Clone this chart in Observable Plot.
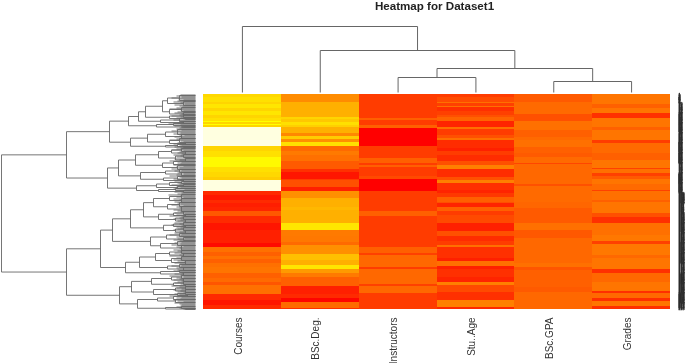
<!DOCTYPE html>
<html>
<head>
<meta charset="utf-8">
<script src="https://cdn.jsdelivr.net/npm/d3@7"></script>
<script src="https://cdn.jsdelivr.net/npm/@observablehq/plot@0.6"></script>
<style>
html,body{margin:0;padding:0;background:#fff}
#chart{position:relative;width:685px;height:363px;overflow:hidden}
#chart svg{position:absolute;left:0;top:0;background:transparent;max-width:none}
</style>
</head>
<body>
<div id="chart"></div>
<script>
const columns = ["Courses","BSc.Deg.","Instructors","Stu..Age","BSc.GPA","Grades"];
const title = "Heatmap for Dataset1";

// Heat values per column: row where each band ends, and its value
const coursesEnd = [3,8,10,14,17,21,24,27,28,30,31,33,52,57,63,73,78,83,86,97,101,106,109,113,117,122,129,136,149,153,158,162,165,169,173,179,184,188,191,200,206,211,215];
const coursesVal = [216,224,213,230,213,230,213,224,255,213,255,213,300,213,224,250,224,216,205,300,42,24,42,30,36,88,42,21,32,10,112,96,112,96,112,117,96,106,85,112,42,21,42];
const degEnd = [8,23,25,28,31,33,39,42,45,48,52,57,61,67,75,78,85,86,93,97,104,113,116,129,136,142,148,151,160,166,171,175,179,183,192,200,204,208,214,215];
const degVal = [140,176,213,200,224,208,176,136,204,144,224,106,122,112,90,48,21,60,80,32,144,176,184,176,230,122,120,106,144,192,176,230,154,122,96,32,42,5,106,48];
const instrEnd = [24,26,31,34,52,64,69,71,73,82,85,97,117,122,153,159,161,173,175,190,192,199,215];
const instrVal = [60,96,60,96,0,60,96,60,96,60,74,0,60,96,60,96,64,104,60,104,64,104,60];
const ageEnd = [3,8,9,12,13,17,21,23,27,33,35,41,44,46,54,57,61,67,71,75,83,86,89,96,99,103,108,109,113,117,121,129,137,142,147,151,153,164,167,172,175,183,188,191,198,206,213,215];
const ageVal = [60,76,112,64,112,48,64,80,100,36,112,60,80,112,44,32,60,44,80,128,44,80,128,48,36,56,96,80,36,96,60,74,32,80,44,60,112,48,32,112,32,48,36,128,74,48,128,40];
const gpaEnd = [8,20,27,36,43,46,53,59,63,69,70,90,92,103,108,114,129,136,144,169,173,176,193,198,215];
const gpaVal = [90,106,80,112,96,106,112,96,90,106,69,104,80,106,106,102,90,112,88,104,112,85,96,90,104];
const gradesEnd = [10,14,19,24,33,36,46,49,59,66,74,75,79,82,85,90,96,97,106,108,119,123,129,141,147,150,161,164,175,179,188,197,199,204,207,212,215];
const gradesVal = [117,96,117,48,117,96,117,60,106,96,117,64,112,64,90,117,106,64,112,96,117,80,48,112,120,64,120,104,117,48,104,117,48,106,48,117,48];

// Column dendrogram: heights of the merges, leaves are column numbers
const colTree = [66,0,[42,1,[24,[15,2,3],[11,4,5]]]];

// Row dendrogram: [height, child, child]; a number is a leaf row
const rowTree = [194,
 [129,
  [86,
   [67,
    [57,
     [50,
      [33,[28,[16,1,6],[12,7,11]],[26,[14,13,17],[12,18,21]]],
      [26,[12,20,23],[10,23,25]]],
     [35,[16,24,27],[12,27,29]]],
    [39,[22,29,31],[14,32,33]]],
   [65,
    [48,[30,[18,35,40],[14,40,44]],[26,[16,44,48],[10,48,50]]],
    [30,[18,50,52],[12,52,53]]]],
  [88,
   [77,
    [60,
     [37,[24,[14,54,57],[10,57,60]],[20,[12,60,63],[10,64,67]]],
     [33,[22,67,70],[18,71,75]]],
    [55,[30,[16,75,78],[14,78,81]],[32,[18,82,85],[12,85,87]]]],
   [59,
    [39,[26,[14,87,89],[12,90,92]],[18,92,94]],
    [37,[20,94,96],[12,96,98]]]]],
 [129,
  [95,
   [83,
    [65,
     [52,
      [42,[26,[14,100,104],[14,104,108]],[28,[16,108,112],[14,112,117]]],
      [37,[22,[12,117,120],[10,120,122]],[20,[12,122,125],[10,125,128]]]],
     [32,[22,[12,128,131],[10,131,133]],[20,[12,133,136],[10,136,139]]]],
    [45,
     [29,[16,139,142],[12,143,146]],
     [35,[18,147,151],[14,151,156]]]],
   [70,
    [56,
     [40,[26,[14,156,159],[12,159,162]],[24,[14,162,166],[10,166,170]]],
     [28,[16,170,173],[12,173,176]]],
    [35,[16,176,178],[12,178,181]]]],
  [76,
   [64,
    [44,[24,[14,181,184],[12,184,187]],[22,[12,187,190],[10,190,192]]],
    [42,[20,[10,192,195],[10,195,198]],[18,[10,198,200],[8,200,202]]]],
   [58,
    [38,[22,202,205],[20,205,208]],
    [30,[14,212,214],[10,214,215]]]]]];

// Length of the fine leaf twig on each row
const leafTwigs = [
 15,19,14,24,17,12,18,22,15,11,21,16,13,19,26,15,12,18,21,14,16,24,15,19,12,22,16,14,18,27,
 15,21,12,16,19,14,24,18,15,22,11,16,21,14,19,26,15,12,18,22,16,14,21,15,19,24,12,16,18,14,
 22,15,19,11,21,16,26,14,18,15,22,12,19,16,24,14,21,15,18,12,19,26,16,14,22,15,21,12,18,16,
 24,14,19,15,22,11,16,21,14,18,27,15,19,12,22,16,14,21,18,15,24,12,19,16,14,22,18,15,21,11,
 19,26,14,16,22,15,18,12,21,16,24,14,19,15,18,22,12,16,21,14,26,15,19,11,18,22,16,14,21,15,
 24,12,19,16,14,22,18,15,21,12,16,26,14,19,15,22,18,11,21,16,14,24,15,19,12,18,22,16,14,21,
 15,26,12,19,16,22,14,18,21,15,11,24,16,19,14,22,15,18,12,21,16,26,14,19,15,22,18,12,21,16,14,15,19,16,12];

const W = 685, H = 363;
const bandTable = [];
[[coursesEnd,coursesVal],[degEnd,degVal],[instrEnd,instrVal],[ageEnd,ageVal],[gpaEnd,gpaVal],[gradesEnd,gradesVal]]
 .forEach(([ends,vals],c)=>{
   let start = 0;
   ends.forEach((e,i)=>{ bandTable.push({col:c,col2:c+1,r1:start,r2:e,v:vals[i]}); start = e; });
 });

// Turn a tree into link segments; returns the position of the node
function walk(node, segs, parentH, leafPos){
  if (typeof node === "number"){
    const p = leafPos(node);
    segs.push({h1:parentH,h2:0,p1:p,p2:p});
    return p;
  }
  const [h,a,b] = node;
  const pa = walk(a,segs,h,leafPos), pb = walk(b,segs,h,leafPos);
  segs.push({h1:h,h2:h,p1:pa,p2:pb});
  const m = (pa+pb)/2;
  if (parentH !== null) segs.push({h1:parentH,h2:h,p1:m,p2:m});
  return m;
}
const colSegs = []; walk(colTree,colSegs,null,c=>c+0.5);
const rowSegs = []; walk(rowTree,rowSegs,null,r=>r);
const twigs = leafTwigs.map((t,i)=>({h1:t,h2:0,p:i+0.5}));
const rowLabels = leafTwigs.map((t,i)=>({label:String(i+1),p:i+0.5}));

const heat = Plot.plot({
  width:W,height:H,marginLeft:203,marginRight:15,marginTop:94,marginBottom:54,
  x:{domain:[0,6],axis:null},
  y:{domain:[215,0],axis:null},
  color:{type:"linear",domain:[0,255,300],range:["#ff0000","#ffff00","#ffffe0"]},
  marks:[
    Plot.rect(bandTable,{x1:"col",x2:"col2",y1:"r1",y2:"r2",fill:"v",shapeRendering:"crispEdges"}),
    Plot.text(columns,{x:(d,i)=>i+0.5,y:223,text:d=>d,rotate:-90,textAnchor:"end",lineAnchor:"middle",
      dx:-4,fontSize:10,fontFamily:"Liberation Sans",fill:"#333"}),
    Plot.text(rowLabels,{x:6,y:"p",text:"label",textAnchor:"start",dx:8,fontSize:3.6,fontFamily:"Liberation Sans",fill:"#222",stroke:"#333",strokeWidth:0.35}),
    Plot.text([title],{x:3,y:-88,text:d=>d,dx:-2.5,fontSize:11.6,fontWeight:"bold",fontFamily:"Liberation Sans",fill:"#222"})
  ]
});
heat.querySelectorAll('g[aria-label="text"]').forEach(g=>{g.style.filter="grayscale(1)";});

const colDend = Plot.plot({
  width:W,height:H,marginLeft:203,marginRight:15,marginTop:0,marginBottom:H-92,
  x:{domain:[0,6],axis:null},
  y:{domain:[0,92],axis:null},
  marks:[
    Plot.link(colSegs,{x1:"p1",x2:"p2",y1:"h1",y2:"h2",stroke:"#666",strokeWidth:1})
  ]
});

const rowDend = Plot.plot({
  width:W,height:H,marginLeft:1,marginRight:W-195,marginTop:94,marginBottom:54,
  x:{domain:[194,0],axis:null},
  y:{domain:[215,0],axis:null},
  marks:[
    Plot.link(twigs,{x1:"h1",x2:"h2",y1:"p",y2:"p",stroke:"#555",strokeWidth:0.8}),
    Plot.link(rowSegs,{x1:"h1",x2:"h2",y1:"p1",y2:"p2",stroke:"#666",strokeWidth:0.9})
  ]
});

const host = document.getElementById("chart");
host.append(heat,colDend,rowDend);
</script>
</body>
</html>
